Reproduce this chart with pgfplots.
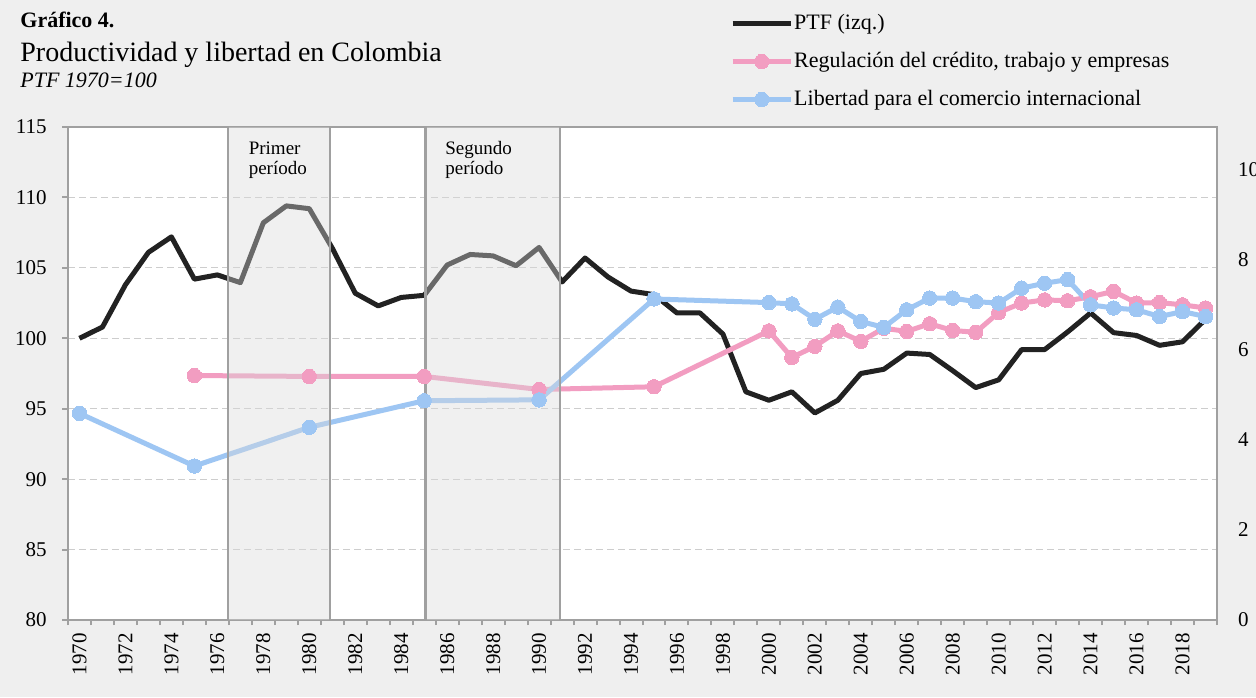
\documentclass[border=0pt]{standalone}
\usepackage{fontspec}
\setmainfont{Liberation Serif}
\usepackage{pgfplots}
\usepackage{pgfplotstable}
\pgfplotsset{compat=1.18}
\definecolor{bgray}{RGB}{239,239,239}
\definecolor{axgray}{RGB}{160,160,160}
\definecolor{gridgray}{RGB}{205,205,205}
\definecolor{boxfill}{RGB}{218,218,218}
\definecolor{ptfblack}{RGB}{34,34,34}
\definecolor{regpink}{RGB}{242,157,193}
\definecolor{libblue}{RGB}{158,198,243}

% PTF (1970=100), left axis
\pgfplotstableread{
year ptf
1970 100.0
1971 100.8
1972 103.8
1973 106.1
1974 107.2
1975 104.2
1976 104.5
1977 103.95
1978 108.2
1979 109.4
1980 109.2
1981 106.4
1982 103.2
1983 102.3
1984 102.9
1985 103.05
1986 105.2
1987 105.95
1988 105.85
1989 105.15
1990 106.45
1991 104.0
1992 105.7
1993 104.35
1994 103.35
1995 103.1
1996 101.8
1997 101.8
1998 100.3
1999 96.2
2000 95.6
2001 96.2
2002 94.7
2003 95.6
2004 97.5
2005 97.8
2006 98.95
2007 98.85
2008 97.7
2009 96.5
2010 97.05
2011 99.2
2012 99.2
2013 100.45
2014 101.8
2015 100.4
2016 100.2
2017 99.5
2018 99.75
2019 101.35
}\ptftable

% Regulacion del credito, trabajo y empresas, right axis
\pgfplotstableread{
year reg
1975 5.43
1980 5.41
1985 5.41
1990 5.12
1995 5.18
2000 6.42
2001 5.83
2002 6.08
2003 6.42
2004 6.19
2005 6.48
2006 6.41
2007 6.58
2008 6.43
2009 6.39
2010 6.83
2011 7.04
2012 7.11
2013 7.09
2014 7.18
2015 7.30
2016 7.04
2017 7.05
2018 7.00
2019 6.93
}\regtable

% Libertad para el comercio internacional, right axis
\pgfplotstableread{
year lib
1970 4.59
1975 3.42
1980 4.28
1985 4.87
1990 4.89
1995 7.13
2000 7.05
2001 7.02
2002 6.68
2003 6.95
2004 6.63
2005 6.50
2006 6.89
2007 7.15
2008 7.15
2009 7.07
2010 7.04
2011 7.37
2012 7.48
2013 7.56
2014 7.00
2015 6.93
2016 6.89
2017 6.74
2018 6.85
2019 6.74
}\libtable

\pgfplotsset{
  base/.style={
    scale only axis, width=574.5pt, height=246.5pt,
    xmin=1969.5, xmax=2019.5,
    ticklabel style={font=\fontsize{10.5}{12}\selectfont},
    /pgf/number format/assume math mode=true,
    /pgf/number format/1000 sep={},
  },
}

\begin{document}
\begin{tikzpicture}
\fill[bgray] (-34pt,-38.5pt) rectangle (594pt,310pt);
\useasboundingbox (-34pt,-38.5pt) rectangle (594pt,310pt);

\begin{axis}[base,
  ymin=80, ymax=115, ytick={80,85,...,115},
  ymajorgrids,
  major grid style={gridgray, line width=0.6pt, dash pattern=on 3.5pt off 2pt},
  axis background/.style={fill=white},
  axis line style={axgray, line width=1.3pt},
  tick style={axgray, line width=1pt},
  tick align=outside,
  major tick length=3pt, minor tick length=2.5pt,
  xtick pos=bottom, ytick pos=left,
  xtick={1970,1972,...,2018},
  minor xtick={1969.5,1970.5,...,2019.5},
  major x tick style={draw=none},
  xticklabel style={rotate=90, anchor=east, inner sep=0pt, xshift=-3.5pt},
  yticklabel style={inner sep=0pt, xshift=-7.5pt},
]
\addplot[ptfblack, line width=2.5pt, line join=round] table[x=year, y=ptf] {\ptftable};
\end{axis}

\begin{axis}[base,
  ymin=0, ymax=10.95, ytick={0,2,...,10},
  hide x axis,
  axis y line*=right,
  y axis line style={axgray, line width=1.3pt},
  major y tick style={draw=none}, major tick length=0pt,
  yticklabel style={anchor=west, inner sep=0pt, xshift=10.3pt},
  legend style={at={(0.5760,1.1327)}, anchor=west, draw=none, fill=none,
    inner sep=0pt, row sep=9.8pt, column sep=0.5pt,
    nodes={inner sep=0pt}, font=\fontsize{11}{11}\selectfont},
  legend cell align=left,
  legend image code/.code={\draw[mark repeat=2, mark phase=2, #1]
    plot coordinates {(0pt,0pt) (14.5pt,0pt) (29pt,0pt)};},
]
\addlegendimage{ptfblack, line width=2.5pt}
\addlegendentry{\strut PTF (izq.)}
\addplot[regpink, line width=2.5pt, line join=round, mark=*, mark size=3.6pt,
  mark options={solid, fill=regpink, draw=regpink, line width=0pt}]
  table[x=year, y=reg] {\regtable};
\addlegendentry{\strut Regulación del crédito, trabajo y empresas}
\addplot[libblue, line width=2.5pt, line join=round, mark=*, mark size=3.6pt,
  mark options={solid, fill=libblue, draw=libblue, line width=0pt}]
  table[x=year, y=lib] {\libtable};
\addlegendentry{\strut Libertad para el comercio internacional}
% shaded periods
\fill[boxfill, fill opacity=0.39] (axis cs:1976.45,0) rectangle (axis cs:1980.9,10.95);
\fill[boxfill, fill opacity=0.39] (axis cs:1985.05,0) rectangle (axis cs:1990.9,10.95);
\draw[axgray, line width=1.2pt]
  (axis cs:1976.45,0) -- (axis cs:1976.45,10.95)
  (axis cs:1980.9,0) -- (axis cs:1980.9,10.95)
  (axis cs:1985.05,0) -- (axis cs:1985.05,10.95)
  (axis cs:1990.9,0) -- (axis cs:1990.9,10.95);
\end{axis}

\begin{scope}[every node/.style={inner sep=0pt, anchor=base west}]
\node[font=\bfseries\fontsize{11}{13}\selectfont] at (-24pt,296pt) {Gráfico 4.};
\node[font=\fontsize{14}{16}\selectfont] at (-24pt,279pt) {Productividad y libertad en Colombia};
\node[font=\itshape\fontsize{11}{13}\selectfont] at (-24pt,266pt) {PTF 1970=100};
\node[font=\fontsize{9.5}{11}\selectfont] at (90.2pt,232.8pt) {Primer};
\node[font=\fontsize{9.5}{11}\selectfont] at (90.2pt,222.5pt) {período};
\node[font=\fontsize{9.5}{11}\selectfont] at (188.5pt,232.8pt) {Segundo};
\node[font=\fontsize{9.5}{11}\selectfont] at (188.5pt,222.5pt) {período};
\end{scope}
\end{tikzpicture}
\end{document}
